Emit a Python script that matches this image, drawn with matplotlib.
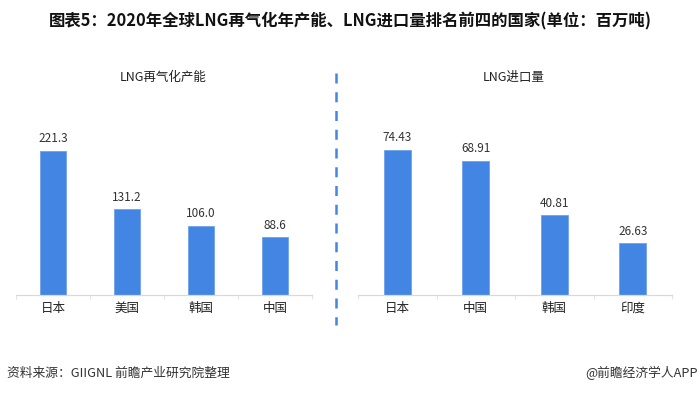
import matplotlib.pyplot as plt
from matplotlib.lines import Line2D

plt.rcParams["font.family"] = ["Noto Sans CJK SC", "DejaVu Sans"]

# data
regas_countries = ["日本", "美国", "韩国", "中国"]
regas_capacity = [221.3, 131.2, 106.0, 88.6]
import_countries = ["日本", "中国", "韩国", "印度"]
import_volume = [74.43, 68.91, 40.81, 26.63]

BAR_COLOR = "#4285E2"
TEXT_COLOR = "#333333"
W, H = 700, 394


def draw_panel(ax, labels, values, fmt, ymax):
    x = range(len(labels))
    bars = ax.bar(x, values, width=0.34, color=BAR_COLOR, edgecolor="#6FA3EA", linewidth=0.6)
    ax.bar_label(bars, labels=[fmt.format(v) for v in values], padding=4,
                 fontsize=8.5, color=TEXT_COLOR)
    ax.set_xlim(-0.5, len(labels) - 0.5)
    ax.set_ylim(0, ymax)
    ax.set_xticks(list(x))
    ax.set_xticklabels(labels, fontsize=9, color="#222222")
    ax.tick_params(axis="x", length=0, pad=5)
    ax.set_xticks([i - 0.5 for i in range(len(labels) + 1)], minor=True)
    ax.tick_params(axis="x", which="minor", length=3, color="#E3E3E3", width=0.8)
    ax.set_yticks([])
    for side in ["left", "right", "top"]:
        ax.spines[side].set_visible(False)
    ax.spines["bottom"].set_color("#D9D9D9")
    ax.spines["bottom"].set_linewidth(0.9)


fig = plt.figure(figsize=(W / 100, H / 100), dpi=100)

base = (H - 295) / H
ax1 = fig.add_axes([16 / W, base, 296 / W, 163 / H])
draw_panel(ax1, regas_countries, regas_capacity, "{:.1f}", 250)
ax2 = fig.add_axes([358 / W, base, 314 / W, 156 / H])
draw_panel(ax2, import_countries, import_volume, "{:.2f}", 80)

fig.text(163 / W, 1 - 77 / H, "LNG再气化产能", ha="center", va="center",
         fontsize=9, color="#222222")
fig.text(514 / W, 1 - 77 / H, "LNG进口量", ha="center", va="center",
         fontsize=9, color="#222222")

# dashed separator
fig.add_artist(Line2D([336 / W, 336 / W], [1 - 73 / H, 1 - 325 / H],
                      color="#3F86E6", linewidth=1.8, linestyle=(0, (4, 3.5))))

fig.text(0.5, 1 - 21 / H, "图表5：2020年全球LNG再气化年产能、LNG进口量排名前四的国家(单位：百万吨)",
         ha="center", va="center", fontsize=11.8, fontweight="bold", color="#111111")

fig.text(7 / W, 1 - 373 / H, "资料来源：GIIGNL 前瞻产业研究院整理", ha="left", va="center",
         fontsize=9.2, color="#333333")
fig.text(698 / W, 1 - 373 / H, "@前瞻经济学人APP", ha="right", va="center",
         fontsize=9.2, color="#333333")

fig.savefig("out.png", dpi=100)
